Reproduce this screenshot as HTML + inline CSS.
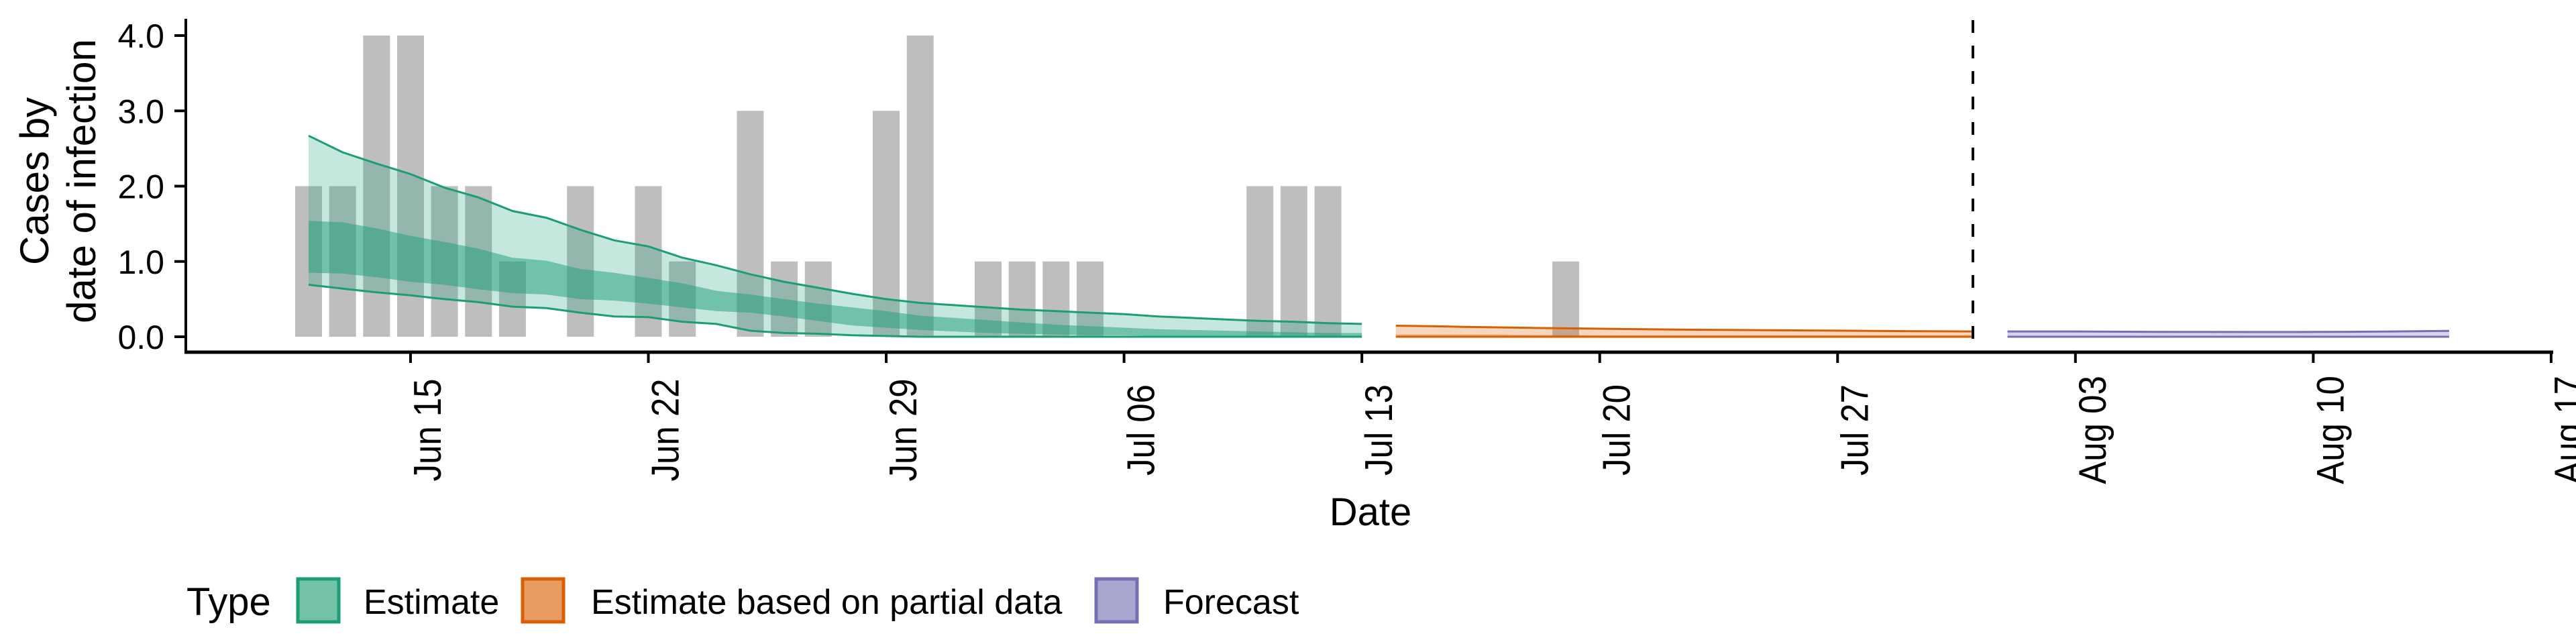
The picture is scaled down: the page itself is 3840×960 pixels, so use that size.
<!DOCTYPE html>
<html><head><meta charset="utf-8"><style>
html,body{margin:0;padding:0;background:#fff;}
svg{display:block;font-family:"Liberation Sans",Arial,sans-serif;}
</style></head><body>
<svg id="chart" width="3840" height="960" viewBox="0 0 3840 960" xmlns="http://www.w3.org/2000/svg">
<g id="bars"></g>
<g id="bands"></g>
<line x1="2941" y1="30" x2="2941" y2="525" stroke="#000" stroke-width="4" stroke-dasharray="19,19"/>
<g id="axes"></g>
<g font-size="60" fill="#000">
<text transform="translate(72,270) rotate(-90)" text-anchor="middle">Cases by</text>
<text transform="translate(142,270) rotate(-90)" text-anchor="middle">date of infection</text>
</g>
<text x="2043" y="783" font-size="58" text-anchor="middle">Date</text>
<g>
<text x="278" y="917" font-size="58">Type</text>
<g>
<rect x="444" y="863" width="61" height="64" fill="#73c2a8" stroke="#1b9e77" stroke-width="5"/>
<text x="542" y="915" font-size="52">Estimate</text></g>
<g>
<rect x="779" y="863" width="61" height="64" fill="#e89c62" stroke="#d95f02" stroke-width="5"/>
<text x="881" y="915" font-size="52">Estimate based on partial data</text></g>
<g>
<rect x="1634" y="863" width="61" height="64" fill="#a8a5cf" stroke="#7570b3" stroke-width="5"/>
<text x="1734" y="915" font-size="52">Forecast</text></g>
</g>
</svg>
<script>
// day 0 = Jun 12
const barCounts = [2,2,4,4,2,2,1,0,2,0,2,1,0,3,1,1,0,3,4,0,1,1,1,1,0,0,0,0,2,2,2,0,0,0,0,0,0,1];
const estStart = 0;
const estOuterUpper = [2.67,2.45,2.3,2.16,1.98,1.85,1.67,1.58,1.42,1.28,1.2,1.05,0.95,0.83,0.73,0.65,0.57,0.5,0.45,0.42,0.39,0.36,0.34,0.32,0.30,0.27,0.25,0.23,0.21,0.20,0.18,0.17];
const estOuterLower = [0.69,0.64,0.59,0.55,0.5,0.46,0.4,0.38,0.32,0.27,0.26,0.2,0.17,0.08,0.05,0.04,0.02,0.01,0,0,0,0,0,0,0,0,0,0,0,0,0,0];
const estInnerUpper = [1.54,1.52,1.44,1.34,1.26,1.17,1.05,1.01,0.9,0.85,0.78,0.71,0.61,0.56,0.5,0.44,0.39,0.34,0.28,0.25,0.22,0.19,0.16,0.14,0.12,0.10,0.09,0.08,0.07,0.06,0.05,0.05];
const estInnerLower = [0.85,0.84,0.79,0.73,0.69,0.63,0.58,0.56,0.5,0.48,0.44,0.39,0.34,0.32,0.27,0.21,0.15,0.12,0.09,0.07,0.05,0.04,0.03,0.02,0.02,0.01,0.01,0.01,0.01,0.01,0.01,0.01];
const partStart = 32;
const partOuterUpper = [0.147,0.14,0.132,0.125,0.118,0.112,0.107,0.102,0.097,0.093,0.09,0.087,0.084,0.081,0.078,0.075,0.072,0.07];
const partOuterLower = [0,0,0,0,0,0,0,0,0,0,0,0,0,0,0,0,0,0];
const partInnerUpper = [0.03,0.03,0.03,0.03,0.025,0.025,0.02,0.02,0.02,0.02,0.02,0.02,0.02,0.02,0.02,0.02,0.02,0.02];
const partInnerLower = [0,0,0,0,0,0,0,0,0,0,0,0,0,0,0,0,0,0];
const fcStart = 50;
const fcOuterUpper = [0.07,0.07,0.07,0.068,0.066,0.065,0.064,0.063,0.063,0.064,0.066,0.069,0.073,0.078];
const fcOuterLower = [0,0,0,0,0,0,0,0,0,0,0,0,0,0];
const yTicks = [0,1,2,3,4];
const yTickLabels = ["0.0","1.0","2.0","3.0","4.0"];
const xTickDays = [3,10,17,24,31,38,45,52,59,66];
const xTickLabels = ["Jun 15","Jun 22","Jun 29","Jul 06","Jul 13","Jul 20","Jul 27","Aug 03","Aug 10","Aug 17"];

const NS = "http://www.w3.org/2000/svg";
function x(d){ return 460 + d*50.65; }
function y(v){ return 502 - v*112.25; }
function mk(tag, attrs, parent){ const e=document.createElementNS(NS,tag); for(const k in attrs) e.setAttribute(k,attrs[k]); parent.appendChild(e); return e; }

const gb = document.getElementById('bars');
barCounts.forEach((c,i)=>{
  if(c<=0) return;
  const r = mk('rect',{x:x(i)-20,y:y(c),width:40,height:y(0)-y(c),fill:'#bebebe'},gb);
  
  
});

const gbd = document.getElementById('bands');
function ribbon(start, up, lo, fill, name){
  let d='';
  up.forEach((v,i)=>{ d += (i?'L':'M')+x(start+i).toFixed(1)+','+y(v).toFixed(1); });
  for(let i=lo.length-1;i>=0;i--) d += 'L'+x(start+i).toFixed(1)+','+y(lo[i]).toFixed(1);
  const p = mk('path',{d:d+'Z',fill:fill,stroke:'none'},gbd);
  
  
}
function edge(start, vals, col, name){
  let d='';
  vals.forEach((v,i)=>{ d += (i?'L':'M')+x(start+i).toFixed(1)+','+y(v).toFixed(1); });
  const p = mk('path',{d:d,fill:'none',stroke:col,'stroke-width':3},gbd);
  
  
}
ribbon(estStart, estOuterUpper, estOuterLower, 'rgba(27,158,119,0.25)', 'estimate-outer-band');
ribbon(estStart, estInnerUpper, estInnerLower, 'rgba(27,158,119,0.5)', 'estimate-inner-band');
edge(estStart, estOuterUpper, '#1b9e77', 'estimate-upper-line');
edge(estStart, estOuterLower, '#1b9e77', 'estimate-lower-line');
ribbon(partStart, partOuterUpper, partOuterLower, 'rgba(217,95,2,0.25)', 'partial-outer-band');
ribbon(partStart, partInnerUpper, partInnerLower, 'rgba(217,95,2,0.4)', 'partial-inner-band');
edge(partStart, partOuterUpper, '#d95f02', 'partial-upper-line');
edge(partStart, partOuterLower, '#d95f02', 'partial-lower-line');
ribbon(fcStart, fcOuterUpper, fcOuterLower, 'rgba(117,112,179,0.3)', 'forecast-band');
edge(fcStart, fcOuterUpper, '#7570b3', 'forecast-upper-line');
edge(fcStart, fcOuterLower, '#7570b3', 'forecast-lower-line');

const ga = document.getElementById('axes');
const ya = mk('line',{x1:277,y1:28,x2:277,y2:527,stroke:'#000','stroke-width':4},ga);


const xa = mk('line',{x1:275,y1:525,x2:3806,y2:525,stroke:'#000','stroke-width':5},ga);


yTicks.forEach((v,i)=>{
  const t = mk('line',{x1:260,y1:y(v),x2:277,y2:y(v),stroke:'#000','stroke-width':4},ga);
  
  
  const l = mk('text',{x:245,y:y(v)+18,'font-size':50,'text-anchor':'end'},ga);
  l.textContent = yTickLabels[i];
  
  
});
xTickDays.forEach((d,i)=>{
  const t = mk('line',{x1:x(d),y1:525,x2:x(d),y2:541,stroke:'#000','stroke-width':4},ga);
  
  
  const l = mk('text',{transform:'translate('+(x(d)+45)+',641) rotate(-90) scale(1,1.12)','font-size':51,'text-anchor':'middle'},ga);
  l.textContent = xTickLabels[i];
  
  
});
</script>
</body></html>
